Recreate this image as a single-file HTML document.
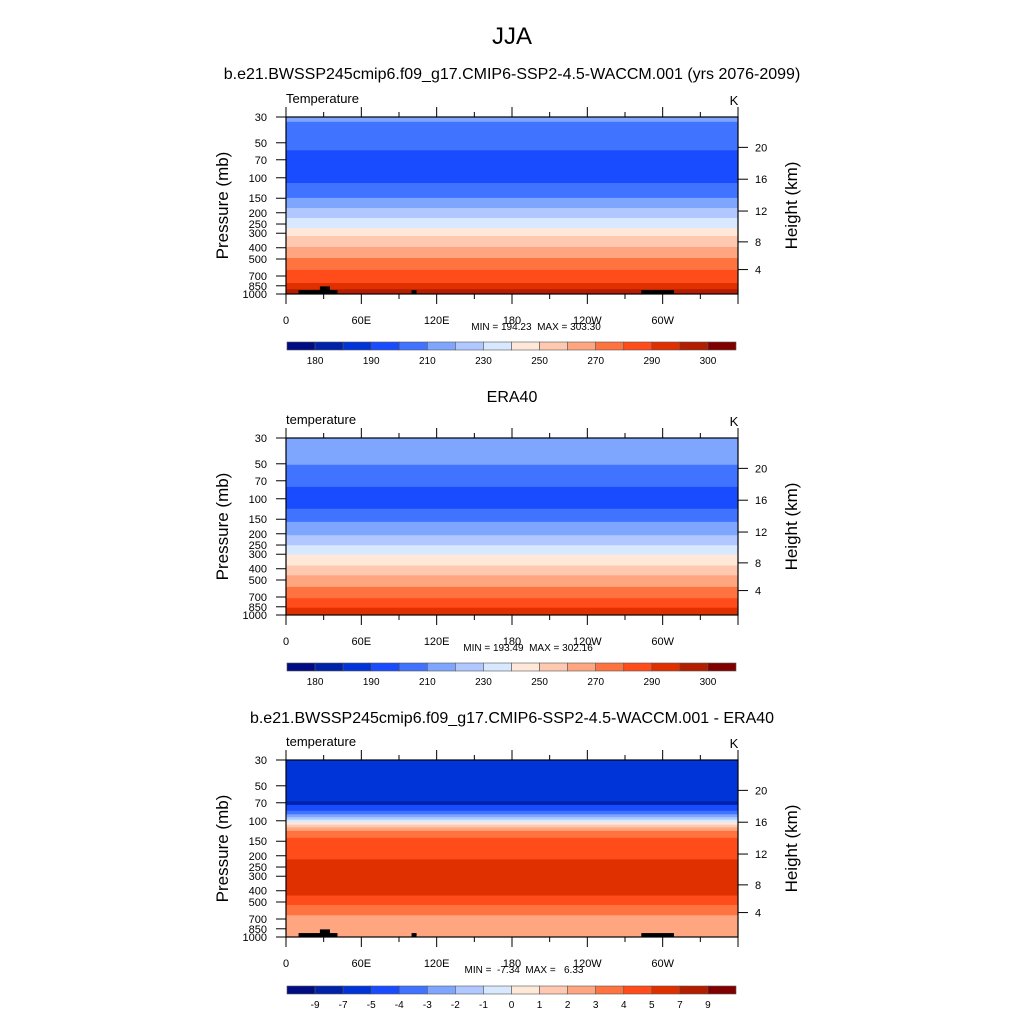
<!DOCTYPE html>
<html><head><meta charset="utf-8">
<style>
html,body{margin:0;padding:0;background:#fff;}
svg{display:block;font-family:"Liberation Sans",Arial,sans-serif;}
.pre{white-space:pre;}
</style></head>
<body>
<svg id="chart" width="1024" height="1024" viewBox="0 0 1024 1024" xmlns="http://www.w3.org/2000/svg">
<text x="512" y="44" font-size="24" text-anchor="middle">JJA</text>
<text x="512" y="79" font-size="16" text-anchor="middle">b.e21.BWSSP245cmip6.f09_g17.CMIP6-SSP2-4.5-WACCM.001 (yrs 2076-2099)</text>
<text x="512" y="402" font-size="16" text-anchor="middle">ERA40</text>
<text x="512" y="723" font-size="16" text-anchor="middle">b.e21.BWSSP245cmip6.f09_g17.CMIP6-SSP2-4.5-WACCM.001 - ERA40</text>
</svg>
<script>
// ---- data ----
const colors = ["#000d82","#0022a8","#0033d8","#1a4cff","#4073ff","#7fa6ff","#b0c8ff","#d8e8ff","#ffe8d8","#ffc8b0","#ffa680","#ff7340","#ff4c1a","#e03000","#b41e00","#800000"];
const levelsT = [180,185,190,200,210,220,230,240,250,260,270,280,290,295,300];
const levelsD = [-9,-7,-5,-4,-3,-2,-1,0,1,2,3,4,5,7,9];
const labelsT = ["180","190","210","230","250","270","290","300"];
const labelIdxT = [0,2,4,6,8,10,12,14];
const labelsD = ["-9","-7","-5","-4","-3","-2","-1","0","1","2","3","4","5","7","9"];
const edges1 = [30,33,58,111,149,182,222,271,317,394,490,621,805,910,1000];
const vals1 = [215,205,195,205,215,225,235,245,255,265,275,285,292,297];
const edges2 = [30,51,79,122,158,206,251,303,375,456,573,717,865,1000];
const vals2 = [215,205,195,205,215,225,235,245,255,265,275,285,292];
const edges3 = [30,68,73,82,88,93,98,103,108,114,122,140,215,440,530,650,1000];
const vals3 = [-6,-8,-4.5,-3.5,-2.5,-1.5,-0.5,0.5,1.5,2.5,3.5,4.5,6,4.5,3.5,2.5];
const pTicks = [30,50,70,100,150,200,250,300,400,500,700,850,1000];
const zTicks = [4,8,12,16,20];
const lonTicks = [0,60,120,180,240,300];
const lonLabels = ["0","60E","120E","180","120W","60W"];
const topo = [[10,41,925],[27,35,860],[100,104,925],[283,309,925]];
const stats = ["MIN = 194.23  MAX = 303.30","MIN = 193.49  MAX = 302.16","MIN =  -7.34  MAX =   6.33"];
const statsX = [536,528,524];

const svg = document.getElementById('chart');
const NS = "http://www.w3.org/2000/svg";
function mk(tag, attrs, parent){const e=document.createElementNS(NS,tag);for(const k in attrs)e.setAttribute(k,attrs[k]);(parent||svg).appendChild(e);return e;}
const X0=286, X1=738, H=177;
const xs = lon => X0 + (lon/360)*(X1-X0);
function ys(top,p){return top + Math.log(p/30)/Math.log(1000/30)*H;}
function zToP(z){const m=z*1000; if(m<=11000) return 1013.25*Math.pow(1-2.25577e-5*m,5.256); return 226.32*Math.exp(-(m-11000)/6341.6);}
function colorFor(v,lv){let i=0;while(i<lv.length && v>=lv[i])i++;return colors[i];}

const panels=[
 {top:117,edges:edges1,vals:vals1,lv:levelsT,name:"Temperature",topo:true,cb:342,labels:labelsT,labelIdx:labelIdxT},
 {top:438,edges:edges2,vals:vals2,lv:levelsT,name:"temperature",topo:false,cb:663,labels:labelsT,labelIdx:labelIdxT},
 {top:760,edges:edges3,vals:vals3,lv:levelsD,name:"temperature",topo:true,cb:986,labels:labelsD,labelIdx:labelsD.map((_,i)=>i)}
];
panels.forEach((P,pi)=>{
  const g=mk('g',{});
  
  
  for(let i=0;i<P.vals.length;i++){
    const y0=ys(P.top,P.edges[i]), y1=ys(P.top,P.edges[i+1]);
    const r=mk('rect',{x:X0,y:y0,width:X1-X0,height:y1-y0+0.5,fill:colorFor(P.vals[i],P.lv)},g);
    
    
  }
  if(P.topo){topo.forEach(t=>{
    const y0=ys(P.top,t[2]);
    const r=mk('rect',{x:xs(t[0]),y:y0,width:xs(t[1])-xs(t[0]),height:P.top+H-y0,fill:"#000"},g);
    
    
  });}
  const fr=mk('rect',{x:X0,y:P.top,width:X1-X0,height:H,fill:"none",stroke:"#000","stroke-width":1.2},g);
  
  
  for(let lon=0;lon<=360;lon+=30){
    const maj=lon%60===0, L=maj?10:5, x=xs(lon);
    mk('line',{x1:x,x2:x,y1:P.top,y2:P.top-L,stroke:"#000"},g);
    mk('line',{x1:x,x2:x,y1:P.top+H,y2:P.top+H+L,stroke:"#000"},g);
  }
  lonTicks.forEach((lon,i)=>{const t=mk('text',{x:xs(lon),y:P.top+H+30,"font-size":11,"text-anchor":"middle"},g);t.textContent=lonLabels[i];
    });
  pTicks.forEach(p=>{const y=ys(P.top,p);mk('line',{x1:X0,x2:X0-10,y1:y,y2:y,stroke:"#000"},g);
    const t=mk('text',{x:267,y:y+4,"font-size":11,"text-anchor":"end"},g);t.textContent=p;
    });
  zTicks.forEach(z=>{const y=ys(P.top,zToP(z));mk('line',{x1:X1,x2:X1+10,y1:y,y2:y,stroke:"#000"},g);
    const t=mk('text',{x:755,y:y+4,"font-size":11},g);t.textContent=z;
    });
  let t=mk('text',{x:286,y:P.top-14,"font-size":13},g);t.textContent=P.name;
  
  t=mk('text',{x:734,y:P.top-12,"font-size":13,"text-anchor":"middle"},g);t.textContent="K";
  
  t=mk('text',{x:0,y:0,"font-size":17,"text-anchor":"middle",transform:`translate(228,${P.top+H/2}) rotate(-90)`},g);t.textContent="Pressure (mb)";
  
  t=mk('text',{x:0,y:0,"font-size":17,"text-anchor":"middle",transform:`translate(797,${P.top+H/2}) rotate(-90)`},g);t.textContent="Height (km)";
  
  t=mk('text',{x:statsX[pi],y:P.top+H+36,"font-size":10,"text-anchor":"middle","class":"pre","xml:space":"preserve"},g);t.textContent=stats[pi];
  
  // colorbar
  const cx0=287,cw=449/16;
  for(let i=0;i<16;i++){const r=mk('rect',{x:cx0+i*cw,y:P.cb,width:cw,height:8,fill:colors[i],stroke:"#555","stroke-width":0.6},g);
    }
  P.labels.forEach((s,i)=>{const tt=mk('text',{x:cx0+(P.labelIdx[i]+1)*cw,y:P.cb+22,"font-size":10,"text-anchor":"middle"},g);tt.textContent=s;
    });
});
</script>
</body></html>
